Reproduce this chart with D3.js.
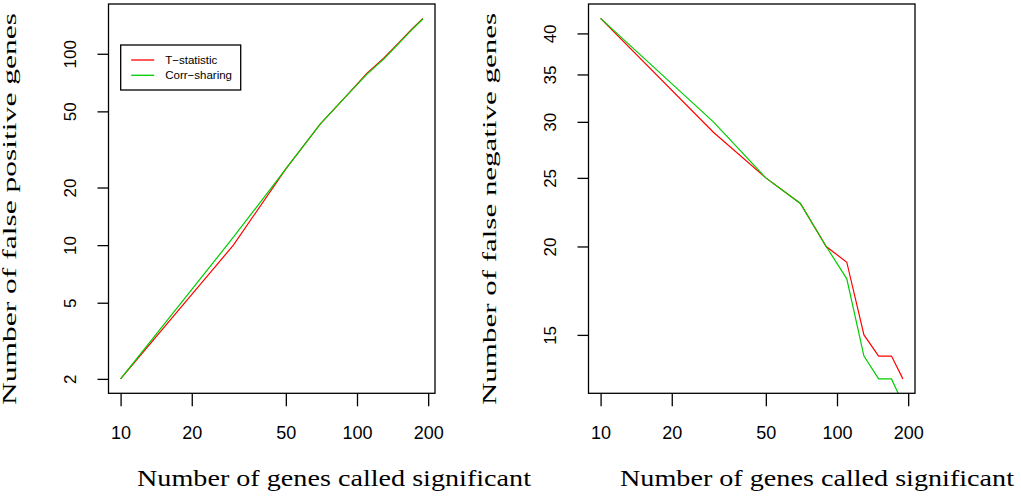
<!DOCTYPE html>
<html>
<head>
<meta charset="utf-8">
<script src="https://cdn.jsdelivr.net/npm/d3@7"></script>
<style>
  body { margin: 0; background: #fff; }
  .tick text { font-family: "Liberation Sans", Arial, sans-serif; fill: #000; }
  .title { font-family: "Liberation Serif", "Times New Roman", serif; fill: #000; }
</style>
</head>
<body>
<script>
// data
var nCalled = [10, 30, 50, 70, 90, 110, 130, 150, 170, 190];
var fpTstat = [2, 10, 25, 43, 60, 79, 95, 114, 134, 153];
var fpCorr  = [2, 11, 25, 43, 60, 78, 94, 113, 133, 152];
var fnTstat = [42, 29, 25, 23, 20, 19, 15, 14, 14, 13];
var fnCorr  = [42, 30, 25, 23, 20, 18, 14, 13, 13, 12];
var xTicks  = [10, 20, 50, 100, 200];
var fpTicks = [2, 5, 10, 20, 50, 100];
var fnTicks = [15, 20, 25, 30, 35, 40];
var seriesNames  = ["T\u2212statistic", "Corr\u2212sharing"];
var seriesColors = ["#ff0000", "#00cd00"];

var W = 1021, H = 498;
var boxTop = 4, boxBottom = 393.3;   // plot box top / bottom
var boxW = 326.5;

var svg = d3.select("body").append("svg")
  .attr("width", W)
  .attr("height", H);

// R style log range: data range padded by 4% each side (from first series)
function rLogDomain(vals) {
  var lo = Math.log10(d3.min(vals)), hi = Math.log10(d3.max(vals));
  var pad = 0.04 * (hi - lo);
  return [Math.pow(10, lo - pad), Math.pow(10, hi + pad)];
}

function drawPanel(id, left, ySeries, yTicks, yTitle, xTitleCx, yTitleX, legend) {
  var x = d3.scaleLog().domain(rLogDomain(nCalled)).range([left, left + boxW]);
  var y = d3.scaleLog().domain(rLogDomain(ySeries[0])).range([boxBottom, boxTop]);

  svg.append("clipPath").attr("id", "clip" + id)
    .append("rect")
    .attr("x", left).attr("y", boxTop)
    .attr("width", boxW).attr("height", boxBottom - boxTop);

  var line = d3.line()
    .x(function(d, i) { return x(nCalled[i]); })
    .y(function(d) { return y(d); });

  ySeries.forEach(function(s, k) {
    svg.append("path")
      .datum(s)
      .attr("clip-path", "url(#clip" + id + ")")
      .attr("fill", "none")
      .attr("stroke", seriesColors[k])
      .attr("stroke-width", 1.2)
      .attr("d", line);
  });

  // box
  svg.append("rect")
    .attr("x", left).attr("y", boxTop)
    .attr("width", boxW).attr("height", boxBottom - boxTop)
    .attr("fill", "none").attr("stroke", "#000").attr("stroke-width", 1.3);

  // x axis
  var xAxisG = svg.append("g")
    .attr("transform", "translate(0," + boxBottom + ")")
    .call(d3.axisBottom(x).tickValues(xTicks).tickFormat(d3.format("d")).tickSize(13).tickPadding(33));
  xAxisG.select(".domain").remove();
  xAxisG.selectAll(".tick line").attr("stroke", "#000").attr("stroke-width", 1.3);
  xAxisG.selectAll(".tick text").attr("font-size", 18).attr("dy", 0);

  // y axis, labels turned like R's las=0
  var yAxisG = svg.append("g")
    .attr("transform", "translate(" + left + ",0)")
    .call(d3.axisLeft(y).tickValues(yTicks).tickFormat(d3.format("d")).tickSize(11));
  yAxisG.select(".domain").remove();
  yAxisG.selectAll(".tick line").attr("stroke", "#000").attr("stroke-width", 1.3);
  yAxisG.selectAll(".tick text")
    .attr("font-size", 17)
    .attr("transform", "rotate(-90)")
    .attr("x", 0).attr("y", -32.5).attr("dy", 0)
    .attr("text-anchor", "middle");

  // axis titles
  svg.append("text").attr("class", "title")
    .attr("x", xTitleCx).attr("y", 486)
    .attr("text-anchor", "middle")
    .attr("font-size", 23)
    .attr("textLength", 394).attr("lengthAdjust", "spacingAndGlyphs")
    .text("Number of genes called significant");

  svg.append("text").attr("class", "title")
    .attr("transform", "translate(" + yTitleX + ",209) rotate(-90)")
    .attr("text-anchor", "middle")
    .attr("font-size", 18.5)
    .attr("textLength", 392).attr("lengthAdjust", "spacingAndGlyphs")
    .text(yTitle);

  if (legend) {
    var lg = svg.append("g").attr("transform", "translate(" + (left + 12.2) + ",45)");
    lg.append("rect").attr("width", 120).attr("height", 45)
      .attr("fill", "#fff").attr("stroke", "#000").attr("stroke-width", 1.3);
    seriesNames.forEach(function(name, k) {
      lg.append("line")
        .attr("x1", 10.5).attr("x2", 33.5)
        .attr("y1", 15 + k * 15.3).attr("y2", 15 + k * 15.3)
        .attr("stroke", seriesColors[k]).attr("stroke-width", 1.3);
      lg.append("text")
        .attr("x", 44.5).attr("y", 15 + k * 15.3).attr("dy", "0.35em")
        .attr("font-family", "Liberation Sans, Arial, sans-serif")
        .attr("font-size", 11.5)
        .text(name);
    });
  }
}

drawPanel("L", 108.5, [fpTstat, fpCorr], fpTicks, "Number of false positive genes", 334, 15.5, true);
drawPanel("R", 588.5, [fnTstat, fnCorr], fnTicks, "Number of false negative genes", 817, 495.5, false);
</script>
</body>
</html>
